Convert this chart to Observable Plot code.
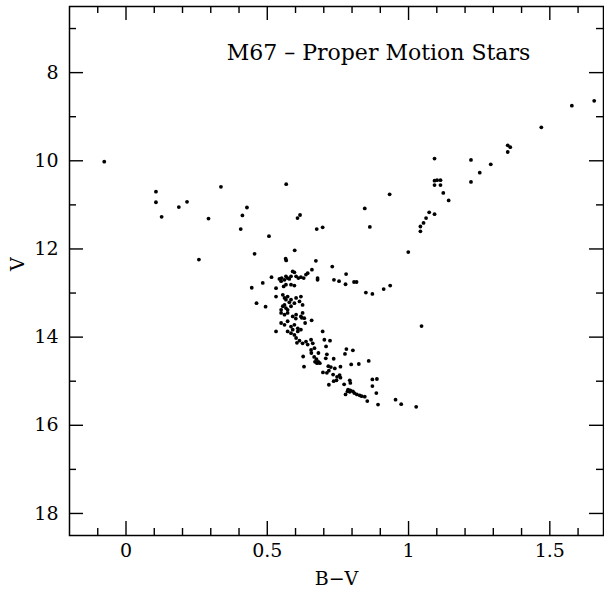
<!DOCTYPE html>
<html><head><meta charset="utf-8">
<script src="https://cdn.jsdelivr.net/npm/d3@7"></script>
<script src="https://cdn.jsdelivr.net/npm/@observablehq/plot@0.6"></script>
<style>body{margin:0;background:#fff}</style>
</head><body><div id="chart"></div>
<script>
// B-V colour index of each star
const bv = [
 -0.077,0.106,0.106,0.126,0.187,0.216,0.336,0.292,0.258,0.412,0.428,0.406,0.506,0.567,0.607,0.616,0.675,0.696,0.455,0.597,0.565,0.567,0.672,0.730,0.779,
 1.657,1.578,1.470,1.351,1.360,1.351,1.092,1.221,1.291,1.252,1.221,1.092,1.101,1.113,1.092,1.113,1.123,1.142,0.933,0.845,0.863,1.073,1.092,1.062,1.053,1.042,1.042,0.999,1.046,
 0.515,0.484,0.445,0.736,0.754,0.777,0.807,0.816,0.849,0.872,0.912,0.935,0.462,0.494,
 0.543,0.551,0.549,0.561,0.566,0.572,0.578,0.584,0.590,0.596,0.602,0.610,0.619,0.629,0.637,0.643,0.658,0.678,0.678,0.558,0.566,0.584,0.596,0.531,
 0.531,0.555,0.561,0.566,0.572,0.584,0.578,0.596,0.602,0.614,0.625,0.619,0.561,0.555,0.549,0.566,0.572,0.584,0.549,0.561,0.572,0.590,0.602,0.619,0.625,0.631,
 0.549,0.561,0.572,0.584,0.596,0.608,0.590,0.531,0.572,0.584,0.596,0.608,0.619,0.602,0.614,0.625,0.637,0.643,0.655,0.661,0.696,0.702,0.708,0.667,0.655,
 0.657,0.634,0.622,0.601,0.605,
 0.722,0.780,0.803,0.681,0.656,0.627,0.666,0.674,0.681,0.669,0.676,0.686,0.711,0.707,0.735,0.775,0.630,0.716,0.725,0.718,0.711,0.739,0.759,0.797,0.824,0.859,
 0.697,0.733,0.747,0.756,0.759,0.735,0.745,0.718,0.772,0.792,0.794,0.872,0.888,0.872,0.786,0.794,0.784,0.792,0.777,0.803,0.808,0.817,0.827,0.834,0.845,0.886,
 0.854,0.892,0.954,0.974,1.027
];
// V magnitude of each star
const vmag = [
 10.02,10.70,10.94,11.27,11.05,10.93,10.59,11.31,12.24,11.24,11.06,11.55,11.71,10.53,11.30,11.23,11.55,11.51,12.11,12.03,12.22,12.26,12.27,12.40,12.57,
 8.64,8.75,9.24,9.65,9.69,9.80,9.95,9.98,10.08,10.27,10.48,10.45,10.44,10.44,10.55,10.55,10.73,10.90,10.76,11.08,11.50,11.17,11.21,11.30,11.41,11.49,11.60,12.07,13.75,
 12.64,12.77,12.88,12.70,12.73,12.80,12.75,12.75,12.99,13.02,12.91,12.83,13.23,13.31,
 12.68,12.66,12.73,12.70,12.62,12.66,12.68,12.62,12.51,12.53,12.62,12.66,12.64,12.66,12.58,12.55,12.47,12.66,12.70,12.85,12.81,12.81,12.83,12.89,
 13.08,13.04,13.11,13.15,13.08,13.15,13.21,13.23,13.11,13.19,13.27,13.08,13.27,13.30,13.38,13.34,13.38,13.30,13.45,13.49,13.45,13.53,13.49,13.53,13.45,13.57,
 13.68,13.72,13.64,13.76,13.72,13.80,13.83,13.87,13.87,13.91,13.95,13.87,13.83,14.02,14.08,14.14,14.10,14.17,14.06,14.14,13.87,14.06,14.21,14.25,14.29,
 13.62,13.68,13.56,13.58,14.13,
 14.08,14.27,14.30,14.36,14.36,14.44,14.45,14.50,14.56,14.56,14.59,14.59,14.39,14.48,14.49,14.38,14.67,14.66,14.68,14.76,14.81,14.71,14.67,14.62,14.61,14.54,
 14.80,14.85,14.90,14.86,14.92,15.00,14.98,15.08,15.07,14.98,15.04,14.96,14.95,15.11,15.19,15.21,15.23,15.24,15.30,15.23,15.27,15.30,15.32,15.34,15.35,15.27,
 15.45,15.53,15.42,15.52,15.58
];
const xMajor = [0, 0.5, 1, 1.5];
const xMinor = [-0.1, 0.1, 0.2, 0.3, 0.4, 0.6, 0.7, 0.8, 0.9, 1.1, 1.2, 1.3, 1.4, 1.6];
const yMajor = [8, 10, 12, 14, 16, 18];
const yMinor = [7, 9, 11, 13, 15, 17];
const title = "M67 \u2013 Proper Motion Stars";
const xLabel = "B\u2212V";
const yLabel = "V";

const stars = bv.map((b, i) => ({bv: b, v: vmag[i]}));

const W = 604, H = 596, mL = 69, mR = 1, mT = 6, mB = 61;
const innerW = W - mL - mR, innerH = H - mT - mB;
const major = 14, minor = 7;
const tickStyle = {stroke: "black", strokeWidth: 1.4};
// inward ticks on all four sides
const ticksX = (vals, len) => [
  Plot.ruleX(vals, {x: d => d, insetTop: innerH - len, ...tickStyle}),
  Plot.ruleX(vals, {x: d => d, insetBottom: innerH - len, ...tickStyle})
];
const ticksY = (vals, len) => [
  Plot.ruleY(vals, {y: d => d, insetRight: innerW - len, ...tickStyle}),
  Plot.ruleY(vals, {y: d => d, insetLeft: innerW - len, ...tickStyle})
];

const chart = Plot.plot({
  width: W, height: H,
  marginLeft: mL, marginRight: mR, marginTop: mT, marginBottom: mB,
  style: {fontFamily: "'DejaVu Serif', serif", fontSize: "19px", color: "black", background: "white"},
  x: {domain: [-0.2, 1.69]},
  y: {domain: [6.5, 18.5], reverse: true},
  marks: [
    Plot.frame({stroke: "black", strokeWidth: 1.5}),
    ...ticksX(xMajor, major),
    ...ticksX(xMinor, minor),
    ...ticksY(yMajor, major),
    ...ticksY(yMinor, minor),
    Plot.axisX(xMajor, {anchor: "bottom", tickSize: 0, tickPadding: 8, label: null, tickFormat: d => String(d)}),
    Plot.axisY(yMajor, {anchor: "left", tickSize: 0, tickPadding: 11, label: null, tickFormat: d => String(d)}),
    Plot.text([xLabel], {text: d => d, frameAnchor: "bottom", dy: 49}),
    Plot.text([yLabel], {text: d => d, frameAnchor: "left", dx: -52, rotate: -90}),
    Plot.text([title], {text: d => d, frameAnchor: "top", dx: 42, dy: 38, fontSize: 22}),
    Plot.dot(stars, {x: "bv", y: "v", r: 1.9, fill: "black", stroke: "none"})
  ]
});
document.getElementById("chart").appendChild(chart);
</script>
</body></html>
